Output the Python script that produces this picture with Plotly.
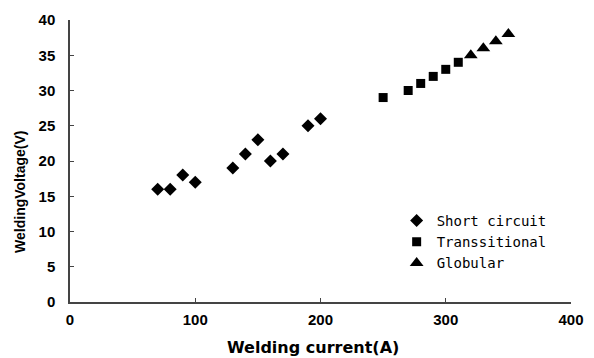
import plotly.graph_objects as go

sc_x = [70, 80, 90, 100, 130, 140, 150, 160, 170, 190, 200]
sc_y = [16, 16, 18, 17, 19, 21, 23, 20, 21, 25, 26]
tr_x = [250, 270, 280, 290, 300, 310]
tr_y = [29, 30, 31, 32, 33, 34]
gl_x = [320, 330, 340, 350]
gl_y = [35, 36, 37, 38]

fig = go.Figure()
fig.add_trace(go.Scatter(x=sc_x, y=sc_y, mode="markers", name="Short circuit",
                         marker=dict(symbol="diamond", size=10, color="black")))
fig.add_trace(go.Scatter(x=tr_x, y=tr_y, mode="markers", name="Transsitional",
                         marker=dict(symbol="square", size=9, color="black")))
fig.add_trace(go.Scatter(x=gl_x, y=gl_y, mode="markers", name="Globular",
                         marker=dict(symbol="triangle-up", size=12, color="black")))

tickfont = dict(family="Liberation Sans", size=15, color="black", weight="bold")
fig.update_layout(
    width=586, height=350,
    margin=dict(l=62, r=23, t=12, b=56),
    paper_bgcolor="white", plot_bgcolor="white",
    showlegend=True,
    legend=dict(x=0.652, y=0.344, xanchor="left", yanchor="top",
                font=dict(family="DejaVu Sans Mono", size=14, color="black"),
                bgcolor="rgba(0,0,0,0)", itemwidth=30, tracegroupgap=0),
    xaxis=dict(range=[0, 400], tickvals=[0, 100, 200, 300, 400],
               showline=True, linecolor="#444", linewidth=1.5,
               ticks="inside", ticklen=4, tickcolor="#444", automargin=False,
               showgrid=False, zeroline=False, tickfont=tickfont,
               ticklabelstandoff=3),
    yaxis=dict(range=[0, 40], tickvals=list(range(0, 41, 5)),
               showline=True, linecolor="#444", linewidth=1.5,
               ticks="inside", ticklen=4, tickcolor="#444", automargin=False,
               showgrid=False, zeroline=False, tickfont=tickfont,
               ticklabelstandoff=10),
    annotations=[
        dict(text="Welding current(A)", xref="paper", yref="paper",
             x=0.485, y=-0.16, xanchor="center", yanchor="middle", showarrow=False,
             font=dict(family="DejaVu Sans", size=16, color="black", weight="bold")),
        dict(text="WeldingVoltage(V)", xref="paper", yref="paper", textangle=-90,
             x=-0.1, y=0.39, xanchor="center", yanchor="middle", showarrow=False,
             font=dict(family="Liberation Sans", size=14,
                       color="black", weight="bold")),
    ],
)

fig.write_html("out.html")
